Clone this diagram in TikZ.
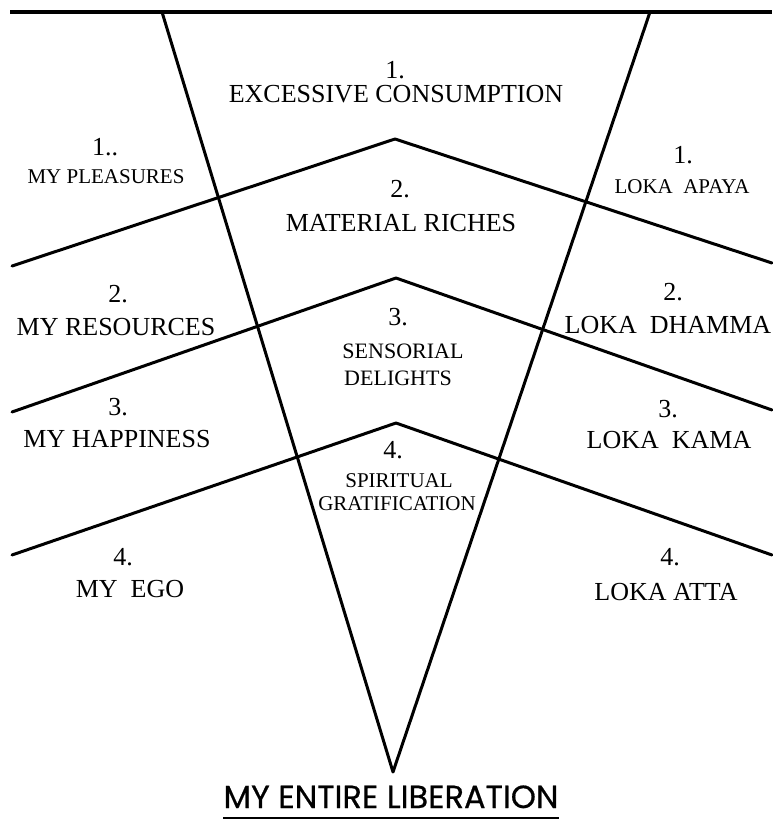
\documentclass[tikz,border=0pt]{standalone}
\usepackage{fontspec}
\setmainfont{Liberation Serif}
\newfontfamily\liberfont[FakeBold=0.6]{Poppins}

\begin{document}
\begin{tikzpicture}[
    x=1pt, y=-1pt,
    num/.style={anchor=base, inner sep=0pt, font=\fontsize{26}{28}\selectfont},
    lbl/.style={anchor=base, inner sep=0pt, font=\fontsize{26}{28}\selectfont},
    smalllbl/.style={anchor=base, inner sep=0pt, font=\fontsize{21}{23}\selectfont},
    midlbl/.style={anchor=base, inner sep=0pt, font=\fontsize{22}{24}\selectfont},
    edge/.style={line width=3pt, line cap=round, line join=round},
    topline/.style={line width=3.5pt}
]
    \useasboundingbox (0,0) rectangle (772,822);

    % ==================== FRAME ====================
    \coordinate (tl) at (10,12);
    \coordinate (tr) at (772,12);
    \coordinate (vl) at (162,12);
    \coordinate (vr) at (650,12);
    \coordinate (apex) at (393,772);
    \draw[topline] (tl) -- (tr);
    \draw[edge] (vl) -- (apex) -- (vr);

    % ==================== CHEVRONS ====================
    \coordinate (c1w) at (12,266);
    \coordinate (c1p) at (395,139);
    \coordinate (c1e) at (772,263);
    \coordinate (c2w) at (12,412);
    \coordinate (c2p) at (396,278);
    \coordinate (c2e) at (772,410);
    \coordinate (c3w) at (12,555);
    \coordinate (c3p) at (396,423);
    \coordinate (c3e) at (772,555);
    \draw[edge] (c1w) -- (c1p) -- (c1e);
    \draw[edge] (c2w) -- (c2p) -- (c2e);
    \draw[edge] (c3w) -- (c3p) -- (c3e);

    % ==================== MIDDLE COLUMN ====================
    \node[num] (numA) at (395,78) {1.};
    \node[lbl] (consumption) at (396,102) {EXCESSIVE CONSUMPTION};
    \node[num] (numB) at (400,197) {2.};
    \node[lbl] (riches) at (401,231) {MATERIAL RICHES};
    \node[num] (numC) at (398,325) {3.};
    \node[midlbl] (sensorial) at (403,358) {SENSORIAL};
    \node[midlbl] (delights) at (398,385) {DELIGHTS};
    \node[num] (numD) at (393,458) {4.};
    \node[smalllbl] (spiritual) at (399,487) {SPIRITUAL};
    \node[smalllbl] (gratification) at (397,510) {GRATIFICATION};

    % ==================== LEFT COLUMN ====================
    \node[num] (myA) at (105,155) {1..};
    \node[smalllbl] (pleasures) at (106,183) {MY PLEASURES};
    \node[num] (myB) at (118,302) {2.};
    \node[lbl] (resources) at (116,335) {MY RESOURCES};
    \node[num] (myC) at (118,415) {3.};
    \node[lbl] (happiness) at (117,447) {MY HAPPINESS};
    \node[num] (myD) at (123,565) {4.};
    \node[lbl] (ego) at (130,597) {MY\ \ EGO};

    % ==================== RIGHT COLUMN ====================
    \node[num] (lokaA) at (683,163) {1.};
    \node[smalllbl] (apaya) at (682,193) {LOKA\ \ APAYA};
    \node[num] (lokaB) at (673,300) {2.};
    \node[lbl] (dhamma) at (668,333) {LOKA\ \ DHAMMA};
    \node[num] (lokaC) at (668,417) {3.};
    \node[lbl] (kama) at (669,448) {LOKA\ \ KAMA};
    \node[num] (lokaD) at (670,565) {4.};
    \node[lbl] (atta) at (666,600) {LOKA ATTA};

    % ==================== BOTTOM TITLE ====================
    \node[anchor=base, inner sep=0pt, font=\liberfont\fontsize{32}{34}\selectfont] (liberation) at (391,808) {MY ENTIRE LIBERATION};
    \draw[line width=2.5pt] ([yshift=-10pt]liberation.base west) -- ([yshift=-10pt]liberation.base east);

\end{tikzpicture}
\end{document}
